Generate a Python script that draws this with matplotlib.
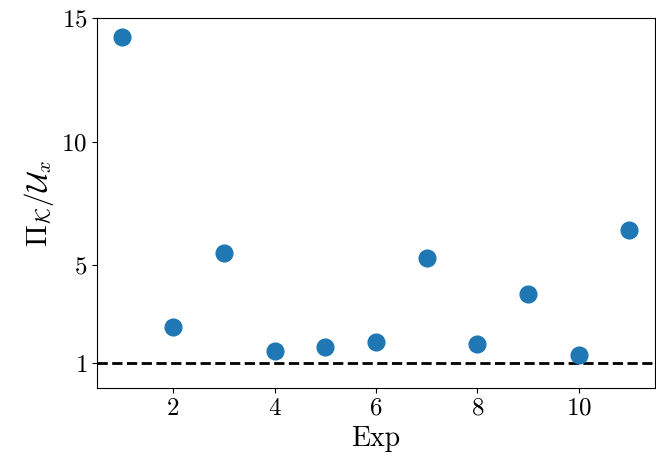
import matplotlib
matplotlib.use("Agg")
import matplotlib.pyplot as plt

plt.rcParams['font.family'] = 'serif'
plt.rcParams['font.serif'] = ['cmr10']
plt.rcParams['mathtext.fontset'] = 'cm'
plt.rcParams['axes.formatter.use_mathtext'] = True

exp = [1, 2, 3, 4, 5, 6, 7, 8, 9, 10, 11]
ratio = [14.23, 2.47, 5.47, 1.5, 1.66, 1.87, 5.27, 1.79, 3.81, 1.34, 6.41]

fig = plt.figure(figsize=(6.56, 4.67), dpi=100)
ax = fig.add_axes([0.148, 0.169, 0.85, 0.792])

ax.scatter(exp, ratio, s=145, color='#1f77b4', zorder=3)
ax.axhline(1, color='black', linestyle='--', linewidth=2)

ax.set_xlim(0.5, 11.5)
ax.set_ylim(0, 15)
ax.set_yticks([1, 5, 10, 15])
ax.set_xticks([2, 4, 6, 8, 10])
ax.tick_params(labelsize=18)
ax.set_xlabel('Exp', fontsize=20)
ax.set_ylabel(r'$\Pi_\mathcal{K}/\mathcal{U}_x$', fontsize=21)

fig.savefig('out.png', dpi=100)
